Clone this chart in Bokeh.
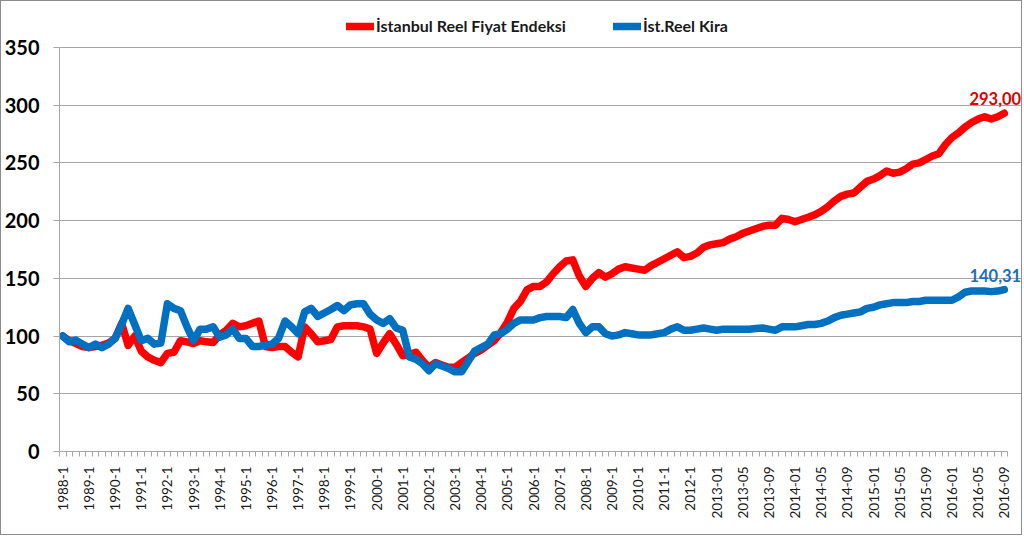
import math
from bokeh.plotting import figure
from bokeh.models import (Range1d, FixedTicker, Legend, LegendItem, Label,
                          ColumnDataSource)
from bokeh.embed import file_html
from bokeh.resources import INLINE

# ---- categories (quarterly 1988-2012, monthly 2013-01..2016-09) ----
quarters = [f"{y}-{q}" for y in range(1988, 2013) for q in range(1, 5)]
months = [f"{y}-{m:02d}" for y in range(2013, 2017) for m in range(1, 13)][:45]
categories = quarters + months

# ---- series ----
fiyat = [
    100, 96, 93.5, 91, 90, 91, 92, 94, 98, 111,
    92, 100, 87, 82, 79, 77, 85, 86, 96, 95,
    93.5, 96, 95, 94.5, 101, 105, 111, 108, 109, 111,
    113, 91, 90, 91, 91, 86, 82, 108, 102, 95,
    96, 97, 108, 109, 109, 109, 108, 106, 85, 94,
    102, 93, 83, 84, 86, 79, 73, 77, 75, 73,
    73, 77, 81, 85, 88, 92, 96, 103, 112, 124,
    130, 140, 143, 143, 147, 154, 160, 165, 166, 152,
    143, 150, 155, 151, 154, 158, 160, 159, 158, 157,
    161, 164, 167, 170, 173, 168, 169, 172, 177, 179,
    180, 181, 184, 186, 189, 191, 193, 195, 196, 196,
    202, 201, 199, 201, 203, 205, 208, 212, 217, 221,
    223, 224, 229, 234, 236, 239, 243, 241, 242, 245,
    249, 250, 253, 256, 258, 266, 272, 276, 281, 285,
    288, 290, 288, 290, 293.00,
]
kira = [
    100, 95, 96.5, 93, 90, 93, 90, 93, 98, 110,
    124, 110, 96, 98, 93, 94, 128, 124, 122, 108,
    96, 106, 106, 108, 99, 101, 106, 98, 98, 91,
    91, 92, 93, 98, 113, 108, 102, 121, 124, 117,
    120, 123, 126.5, 122, 127, 128, 128, 119, 114, 111,
    115, 107, 105, 82, 80, 76, 70, 76, 74, 72,
    69, 69, 78, 87, 90, 93, 101, 102, 106, 111,
    114, 114, 114, 116, 117, 117, 117, 116, 123, 111,
    103, 108, 108, 102, 100, 101, 103, 102, 101, 101,
    101, 102, 103, 106, 108, 105, 105, 106, 107, 106,
    105, 106, 106, 106, 106, 106, 106.5, 107, 106, 105,
    108, 108, 108, 109, 110, 110, 111, 113, 116, 118,
    119, 120, 121, 124, 125, 127, 128, 129, 129, 129,
    130, 130, 131, 131, 131, 131, 131, 134, 138, 139,
    139, 139, 138.5, 139, 140.31,
]
series_names = ["İstanbul Reel Fiyat Endeksi", "İst.Reel Kira"]
y_ticks = [0, 50, 100, 150, 200, 250, 300, 350]

RED = "#FF0000"
BLUE = "#0070C0"
FONT = "Lato"

n = len(categories)
idx = list(range(n))
src = ColumnDataSource(dict(x=idx, fiyat=fiyat, kira=kira))

# frame extends to the top and right edges so legend / end labels are not clipped
W, H = 1022, 535                       # plus a 1px border -> 1024 x 537
cat_w = (1007 - 56) / n
x_end = -0.5 + (W + 1 - 56) / cat_w
px_per_unit = (451 - 47) / 350.0
y_end = (451 - 1) / px_per_unit

p = figure(width=W, height=H, output_backend="svg", toolbar_location=None,
           x_range=Range1d(-0.5, x_end), y_range=Range1d(0, y_end),
           min_border_left=55, min_border_right=0, min_border_top=0,
           min_border_bottom=H - 450)
p.styles = {"border": "1px solid #8c8c8c"}
p.outline_line_color = None
p.background_fill_color = "white"
p.border_fill_color = "white"

r1 = p.line("x", "fiyat", source=src, line_color=RED, line_width=7.5,
            line_join="round", line_cap="round")
r2 = p.line("x", "kira", source=src, line_color=BLUE, line_width=7.5,
            line_join="round", line_cap="round")

# grid
p.xgrid.visible = False
p.ygrid.ticker = FixedTicker(ticks=y_ticks)
p.ygrid.grid_line_color = "#a6a6a6"
p.ygrid.grid_line_width = 1
p.ygrid.bounds = (-0.5, n - 0.5)

# y axis
ya = p.yaxis[0]
ya.ticker = FixedTicker(ticks=y_ticks)
ya.bounds = (0, 350)
ya.axis_line_color = "#a6a6a6"
ya.major_tick_line_color = "#a6a6a6"
ya.major_tick_out = 6
ya.major_tick_in = 0
ya.minor_tick_line_color = None
ya.major_label_text_font = FONT
ya.major_label_text_font_style = "bold"
ya.major_label_text_font_size = "20px"
ya.major_label_text_color = "#000000"
ya.major_label_standoff = 14

# x axis
xa = p.xaxis[0]
label_pos = idx[::4]
xa.bounds = (-0.5, n - 0.5)
xa.ticker = FixedTicker(ticks=label_pos,
                        minor_ticks=[i - 0.5 for i in idx] + [n - 0.5])
xa.major_label_overrides = {i: categories[i] for i in label_pos}
xa.major_label_orientation = math.pi / 2
xa.major_tick_out = 0
xa.major_tick_in = 0
xa.minor_tick_out = 5
xa.minor_tick_in = 0
xa.minor_tick_line_color = "#a6a6a6"
xa.axis_line_color = "#a6a6a6"
xa.major_label_text_font = FONT
xa.major_label_text_font_size = "13.5px"
xa.major_label_text_color = "#1a1a1a"
xa.major_label_standoff = 10

# legend (inside the enlarged frame, above the plotting area)
legend = Legend(items=[LegendItem(label=series_names[0], renderers=[r1]),
                       LegendItem(label=series_names[1], renderers=[r2])],
                orientation="horizontal", location=(287, 416),
                label_text_font=FONT, label_text_font_style="bold",
                label_text_font_size="16px", label_text_color="#1a1a1a",
                glyph_width=28, glyph_height=16, label_standoff=2, spacing=47,
                padding=0, margin=0, border_line_color=None,
                background_fill_alpha=0)
p.add_layout(legend, "center")

# end-point value labels
p.add_layout(Label(x=idx[-1], y=fiyat[-1], text=f"{fiyat[-1]:.2f}".replace(".", ","),
                   text_color="#E00000", text_font=FONT, text_font_style="bold",
                   text_font_size="16.5px", text_align="center",
                   text_baseline="bottom", x_offset=-9, y_offset=8))
p.add_layout(Label(x=idx[-1], y=kira[-1], text=f"{kira[-1]:.2f}".replace(".", ","),
                   text_color="#1F6DB5", text_font=FONT, text_font_style="bold",
                   text_font_size="16.5px", text_align="center",
                   text_baseline="bottom", x_offset=-9, y_offset=8))

open("out.html", "w").write(file_html(p, INLINE))
